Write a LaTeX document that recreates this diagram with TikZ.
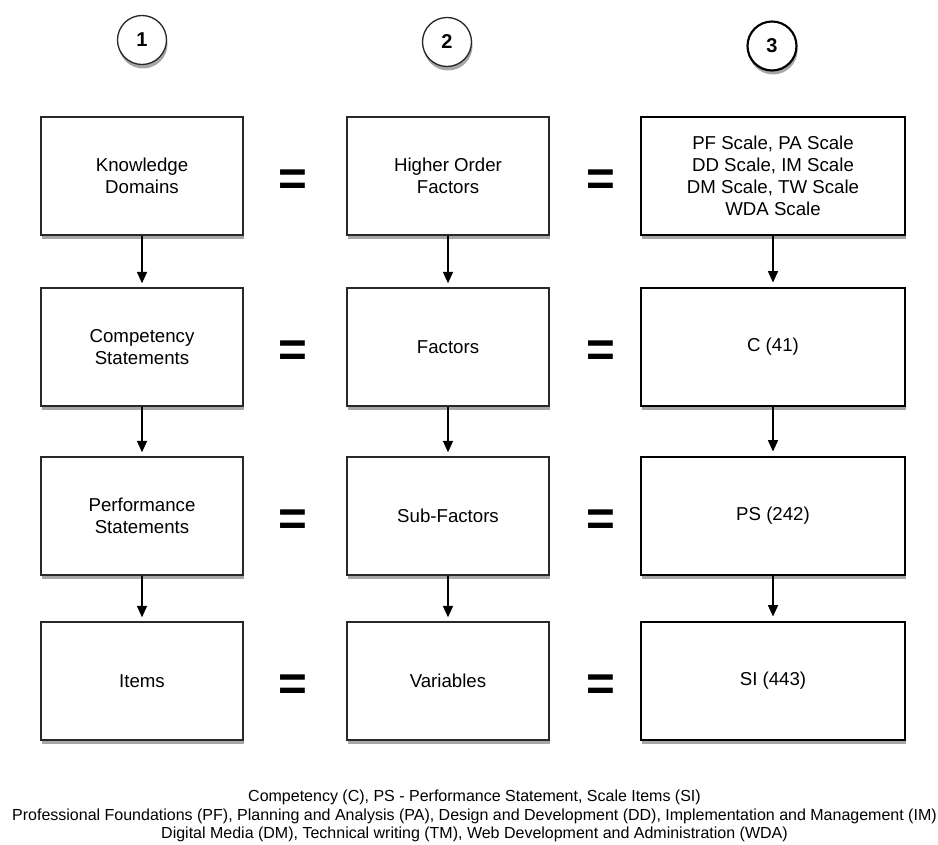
\documentclass[tikz,border=0pt]{standalone}
\usepackage{fontspec}
\setmainfont{Liberation Sans}
\usetikzlibrary{arrows.meta,shadows}
\definecolor{boxline}{RGB}{40,40,40}

\begin{document}
\begin{tikzpicture}[x=0.75pt, y=-0.75pt, >={Triangle[width=7.5pt,length=8.5pt]},
    softshadow/.style={drop shadow={shadow xshift=0.8pt, shadow yshift=-3pt, opacity=0.35, fill=black}},
    box/.style={draw=boxline, line width=1.1pt, fill=white, align=center,
        minimum width=151.5pt, minimum height=88.5pt,
        font=\fontsize{14}{16.5}\selectfont, softshadow},
    scalebox/.style={box, draw=black, line width=2.2pt, minimum width=198pt},
    stepnum/.style={circle, draw=boxline, line width=1pt, fill=white,
        minimum size=36.75pt, inner sep=0pt, font=\fontsize{15}{15}\selectfont\bfseries,
        softshadow},
    eq/.style={inner sep=0pt, font=\fontsize{37}{37}\selectfont\bfseries},
    link/.style={->, line width=1pt, shorten >=3pt}]
    \useasboundingbox (0,0) rectangle (938,845);

    % Column numbers
    \node [stepnum] (n1) at (142,40) {1};
    \node [stepnum] (n2) at (447,42) {2};
    \node [stepnum, draw=black, line width=1.6pt] (n3) at (772,46) {3};

    % Column 1
    \node [box] (kd) at (142,176) {Knowledge\\Domains};
    \node [box] (cs) at (142,347) {Competency\\Statements};
    \node [box] (ps) at (142,516) {Performance\\Statements};
    \node [box] (it) at (142,681) {Items};

    % Column 2
    \node [box] (hof) at (448,176) {Higher Order\\Factors};
    \node [box] (fa)  at (448,347) {Factors};
    \node [box] (sf)  at (448,516) {Sub-Factors};
    \node [box] (va)  at (448,681) {Variables};

    % Column 3
    \node [scalebox] (sc)  at (773,176) {PF Scale, PA Scale\\DD Scale, IM Scale\\DM Scale, TW Scale\\WDA Scale};
    \node [scalebox] (c)   at (773,347) {C (41)};
    \node [scalebox] (psn) at (773,516) {PS (242)};
    \node [scalebox] (si)  at (773,681) {SI (443)};

    % Arrows down each column
    \foreach \a/\b in {kd/cs, cs/ps, ps/it, hof/fa, fa/sf, sf/va, sc/c, c/psn, psn/si}
        \draw [link] (\a) -- (\b);

    % Equal signs
    \foreach \y [count=\i] in {176, 347, 516, 681} {
        \node [eq] (eqa\i) at (293,\y+7) {=};
        \node [eq] (eqb\i) at (601,\y+7) {=};
    }

    % Legend
    \node [align=center, font=\fontsize{12}{14}\selectfont] (legend) at (474.5,816)
        {Competency (C), PS - Performance Statement, Scale Items (SI)\\
         Professional Foundations (PF), Planning and Analysis (PA), Design and Development (DD), Implementation and Management (IM)\\
         Digital Media (DM), Technical writing (TM), Web Development and Administration (WDA)};
\end{tikzpicture}
\end{document}
